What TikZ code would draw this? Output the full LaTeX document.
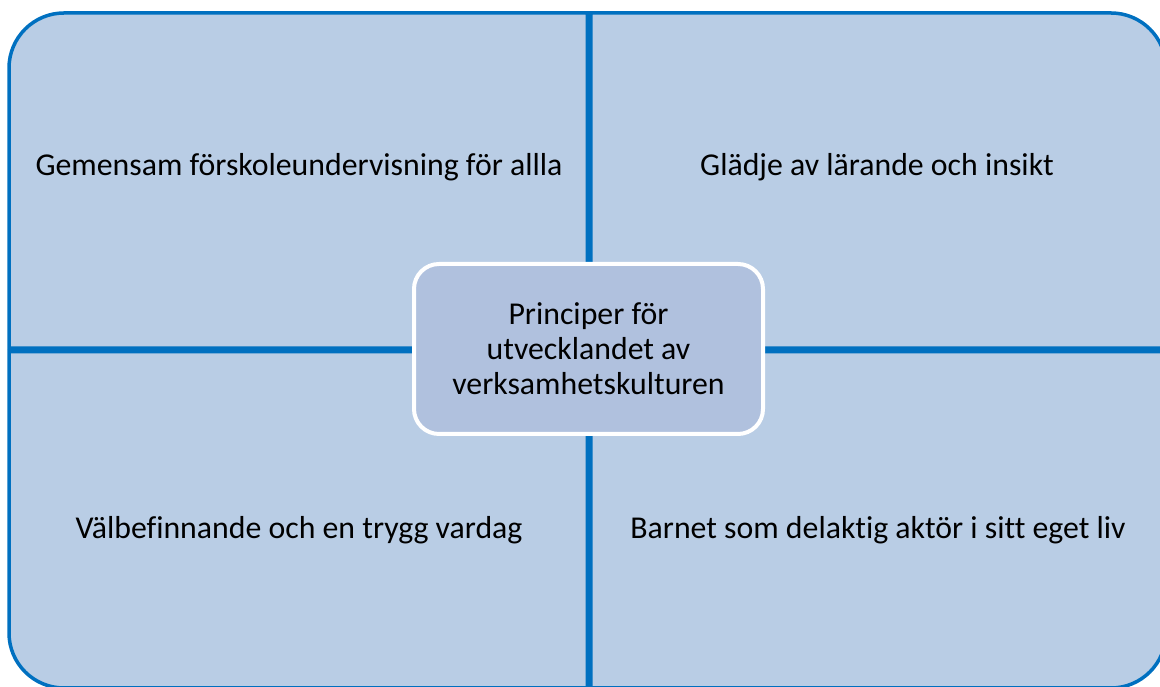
\documentclass[tikz,border=0pt]{standalone}
\usepackage{fontspec}
\setmainfont{Carlito}[Ligatures=CommonOff]
\usepackage{tikz}
\usetikzlibrary{positioning}
\usepackage{xcolor}
\definecolor{quadfill}{RGB}{185,205,229}
\definecolor{quadline}{RGB}{0,112,192}
\definecolor{hubfill}{RGB}{176,193,222}

\begin{document}
\begin{tikzpicture}[x=1pt,y=1pt,
    quad/.style={fill=quadfill, draw=quadline, line width=3.5pt, line join=miter},
    quadtext/.style={font=\fontsize{31.8}{35}\selectfont, text=black},
    hub/.style={rectangle, rounded corners=25pt, fill=hubfill, draw=white, line width=4pt,
      minimum width=349pt, minimum height=170pt, align=center,
      font=\fontsize{31.8}{35}\selectfont}]
  \useasboundingbox (0,0) rectangle (1160,687);
  \clip (0,0) rectangle (1160,687);

  % four quarters, each with its own outer rounded corner
  \draw[quad] (587.25,674) -- (64,674) arc[start angle=90,end angle=180,radius=55]
    -- (9,338.75) -- (587.25,338.75) -- cycle;
  \draw[quad] (590.75,674) -- (1111,674) arc[start angle=90,end angle=0,radius=55]
    -- (1166,338.75) -- (590.75,338.75) -- cycle;
  \draw[quad] (587.25,335.25) -- (9,335.25) -- (9,54) arc[start angle=180,end angle=270,radius=55]
    -- (587.25,-1) -- cycle;
  \draw[quad] (590.75,335.25) -- (1166,335.25) -- (1166,54) arc[start angle=0,end angle=-90,radius=55]
    -- (590.75,-1) -- cycle;

  % texts of the quarters
  \node[quadtext] (gemensam) at (299,520) {Gemensam förskoleundervisning för allla};
  \node[quadtext] (gladje) at (877,520) {Glädje av lärande och insikt};
  \node[quadtext] (valbefinnande) at (299,157) {Välbefinnande och en trygg vardag};
  \node[quadtext] (barnet) at (878,157) {Barnet som delaktig aktör i sitt eget liv};

  % the box in the middle
  \node[hub] (principer) at (588.5,338) {Principer för\\utvecklandet av\\verksamhetskulturen};
\end{tikzpicture}
\end{document}
